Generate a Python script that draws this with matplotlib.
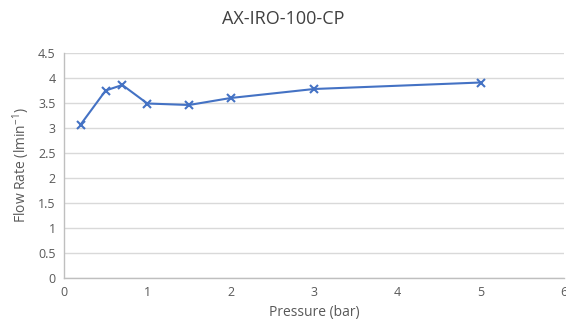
import matplotlib
matplotlib.use("Agg")
import matplotlib.pyplot as plt

pressure = [0.2, 0.5, 0.7, 1.0, 1.5, 2.0, 3.0, 5.0]
flow_rate = [3.07, 3.75, 3.86, 3.49, 3.46, 3.60, 3.78, 3.91]
x_ticks = [0, 1, 2, 3, 4, 5, 6]
y_ticks = [0, 0.5, 1, 1.5, 2, 2.5, 3, 3.5, 4, 4.5]

plt.rcParams['font.family'] = ['Open Sans', 'DejaVu Sans']
plt.rcParams['mathtext.fontset'] = 'custom'
plt.rcParams['mathtext.rm'] = 'Open Sans'
plt.rcParams['mathtext.default'] = 'regular'
fig = plt.figure(figsize=(5.66, 3.3), dpi=100)
ax = fig.add_axes([64/566, 1-278/330, 500/566, 225/330])

ax.plot(pressure, flow_rate, color='#4472C4', linewidth=1.5, marker='x',
        markersize=6, markeredgewidth=1.5, clip_on=False, zorder=3)

ax.set_xlim(0, 6)
ax.set_ylim(0, 4.5)
ax.set_xticks(x_ticks)
ax.set_yticks(y_ticks)
ax.set_xticklabels([str(v) for v in x_ticks])
ax.set_yticklabels([('%g' % v) for v in y_ticks])
ax.grid(axis='y', color='#D9D9D9', linewidth=1)
ax.set_axisbelow(True)
for s in ['top', 'right']:
    ax.spines[s].set_visible(False)
for s in ['left', 'bottom']:
    ax.spines[s].set_color('#BFBFBF')
    ax.spines[s].set_linewidth(1)
ax.tick_params(length=0, labelsize=9, colors='#595959', pad=6)
ax.set_xlabel('Pressure (bar)', fontsize=10, color='#595959', labelpad=4)
ax.set_ylabel('Flow Rate (lmin$^{-1}$)', fontsize=10, color='#595959', labelpad=4)
fig.suptitle('AX-IRO-100-CP', fontsize=13, color='#404040', y=0.97)

fig.savefig('out.png', dpi=100)
